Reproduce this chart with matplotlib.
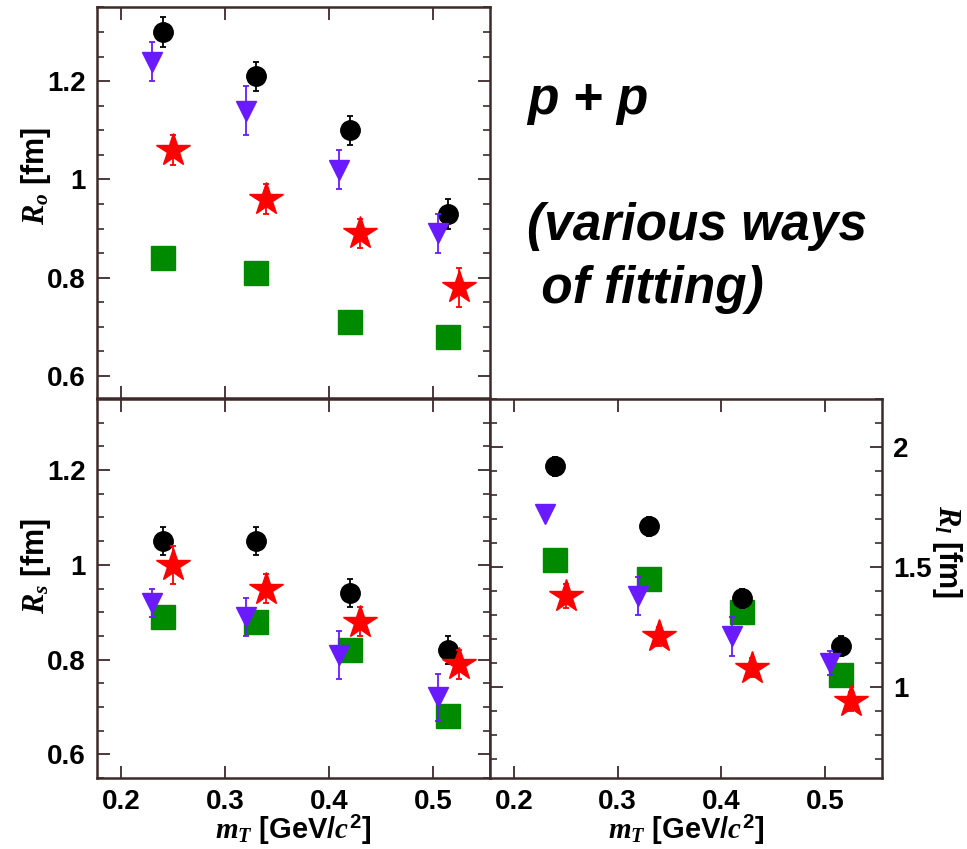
import matplotlib
matplotlib.use("Agg")
import matplotlib.pyplot as plt
from matplotlib.ticker import MultipleLocator, FuncFormatter

plt.rcParams['font.family'] = ['Liberation Sans', 'DejaVu Sans']
plt.rcParams['font.weight'] = 'bold'
plt.rcParams['axes.labelweight'] = 'bold'
plt.rcParams['mathtext.fontset'] = 'custom'
plt.rcParams['mathtext.rm'] = 'Liberation Sans:bold'
plt.rcParams['mathtext.it'] = 'Liberation Serif:bold:italic'
plt.rcParams['mathtext.bf'] = 'Liberation Sans:bold'

# transverse mass bins [GeV/c^2] for each fit method
mt_circle = [0.24, 0.33, 0.42, 0.515]
mt_triangle = [0.23, 0.32, 0.41, 0.505]
mt_star = [0.25, 0.34, 0.43, 0.525]
mt_square = [0.24, 0.33, 0.42, 0.515]

# R_out [fm]
ro_circle = [1.30, 1.21, 1.10, 0.93]
ro_circle_err = [0.03, 0.03, 0.03, 0.03]
ro_triangle = [1.24, 1.14, 1.02, 0.89]
ro_triangle_err = [0.04, 0.05, 0.04, 0.04]
ro_star = [1.06, 0.96, 0.89, 0.78]
ro_star_err = [0.03, 0.03, 0.03, 0.04]
ro_square = [0.84, 0.81, 0.71, 0.68]

# R_side [fm]
rs_circle = [1.05, 1.05, 0.94, 0.82]
rs_circle_err = [0.03, 0.03, 0.03, 0.03]
rs_triangle = [0.92, 0.89, 0.81, 0.72]
rs_triangle_err = [0.03, 0.04, 0.05, 0.05]
rs_star = [1.00, 0.95, 0.88, 0.79]
rs_star_err = [0.04, 0.03, 0.03, 0.03]
rs_square = [0.89, 0.88, 0.82, 0.68]

# R_long [fm]
rl_circle = [1.92, 1.67, 1.37, 1.17]
rl_circle_err = [0.04, 0.04, 0.04, 0.04]
rl_triangle = [1.72, 1.38, 1.21, 1.10]
rl_triangle_err = [0.01, 0.08, 0.08, 0.05]
rl_star = [1.38, 1.21, 1.08, 0.94]
rl_star_err = [0.05, 0.04, 0.04, 0.04]
rl_square = [1.53, 1.45, 1.31, 1.05]

C_BLACK = '#000000'
C_BLUE = '#6a1aff'
C_RED = '#ff0000'
C_GREEN = '#008a00'
SPINE = '#3e2a2a'
TICK_FS = 20
LABEL_FS = 22

fig = plt.figure(figsize=(9.67, 8.49), dpi=100)
W, H = 967.0, 849.0


def px_axes(x0, y0, x1, y1):
    return fig.add_axes([x0 / W, 1 - y1 / H, (x1 - x0) / W, (y1 - y0) / H])


ax_o = px_axes(97, 7, 490, 398)
ax_s = px_axes(97, 399, 490, 778)
ax_l = px_axes(490, 399, 882, 778)


def draw(ax, circ, circ_e, tri, tri_e, star, star_e, sq):
    ax.plot(mt_square, sq, ls='none', marker='s', ms=17, color=C_GREEN, zorder=2)
    ax.errorbar(mt_circle, circ, yerr=circ_e, fmt='o', ms=14, color=C_BLACK,
                elinewidth=1.3, capsize=2.5, capthick=1.3, zorder=3)
    ax.errorbar(mt_triangle, tri, yerr=tri_e, fmt='v', ms=15, color=C_BLUE,
                elinewidth=1.3, capsize=2.5, capthick=1.3, zorder=4)
    ax.errorbar(mt_star, star, yerr=star_e, fmt='*', ms=25, color=C_RED,
                elinewidth=1.3, capsize=2.5, capthick=1.3, zorder=5)


def style(ax):
    ax.set_xlim(0.177, 0.555)
    ax.xaxis.set_major_locator(MultipleLocator(0.1))
    ax.tick_params(axis='both', which='major', direction='in', length=9,
                   width=1.3, color=SPINE, top=True, right=True,
                   labelsize=TICK_FS, pad=8)
    ax.tick_params(axis='both', which='minor', direction='in', length=5,
                   width=1.2, color=SPINE, top=True, right=True)
    for sp in ax.spines.values():
        sp.set_color(SPINE)
        sp.set_linewidth(1.8)
    ax.xaxis.set_major_formatter(FuncFormatter(lambda v, p: '%g' % round(v, 3)))
    ax.yaxis.set_major_formatter(FuncFormatter(lambda v, p: '%g' % round(v, 3)))


draw(ax_o, ro_circle, ro_circle_err, ro_triangle, ro_triangle_err,
     ro_star, ro_star_err, ro_square)
draw(ax_s, rs_circle, rs_circle_err, rs_triangle, rs_triangle_err,
     rs_star, rs_star_err, rs_square)
draw(ax_l, rl_circle, rl_circle_err, rl_triangle, rl_triangle_err,
     rl_star, rl_star_err, rl_square)

for ax in (ax_o, ax_s, ax_l):
    style(ax)

ax_o.set_ylim(0.555, 1.351)
ax_s.set_ylim(0.55, 1.35)
for ax in (ax_o, ax_s):
    ax.yaxis.set_major_locator(MultipleLocator(0.2))
    ax.yaxis.set_minor_locator(MultipleLocator(0.05))

ax_o.tick_params(axis='x', labelbottom=False)

ax_l.set_ylim(0.62, 2.2)
ax_l.yaxis.set_major_locator(MultipleLocator(0.5))
ax_l.yaxis.set_minor_locator(MultipleLocator(0.1))
ax_l.tick_params(axis='y', labelleft=False, labelright=True)

ax_o.set_ylabel(r'$R_o$ [fm]', fontsize=LABEL_FS, va='center')
ax_o.yaxis.set_label_coords(-0.155, 0.567)
ax_s.set_ylabel(r'$R_s$ [fm]', fontsize=LABEL_FS, va='center')
ax_s.yaxis.set_label_coords(-0.155, 0.558)
ax_l.yaxis.set_label_position('right')
ax_l.set_ylabel(r'$R_l$ [fm]', fontsize=LABEL_FS, rotation=270, va='center')
ax_l.yaxis.set_label_coords(1.165, 0.598)

for ax in (ax_s, ax_l):
    ax.set_xlabel(r'$m_T$ [GeV/$c^2$]', fontsize=21, va='center')
    ax.xaxis.set_label_coords(0.5, -0.137)

note = dict(fontsize=37, fontweight='bold', style='italic',
            family=['Liberation Sans', 'DejaVu Sans'], va='baseline', ha='left')
fig.text(527 / W, 1 - 114 / H, 'p + p', **note)
fig.text(527 / W, 1 - 240 / H, '(various ways', **note)
fig.text(527 / W, 1 - 303 / H, ' of fitting)', **note)

fig.savefig('out.png', dpi=100)
